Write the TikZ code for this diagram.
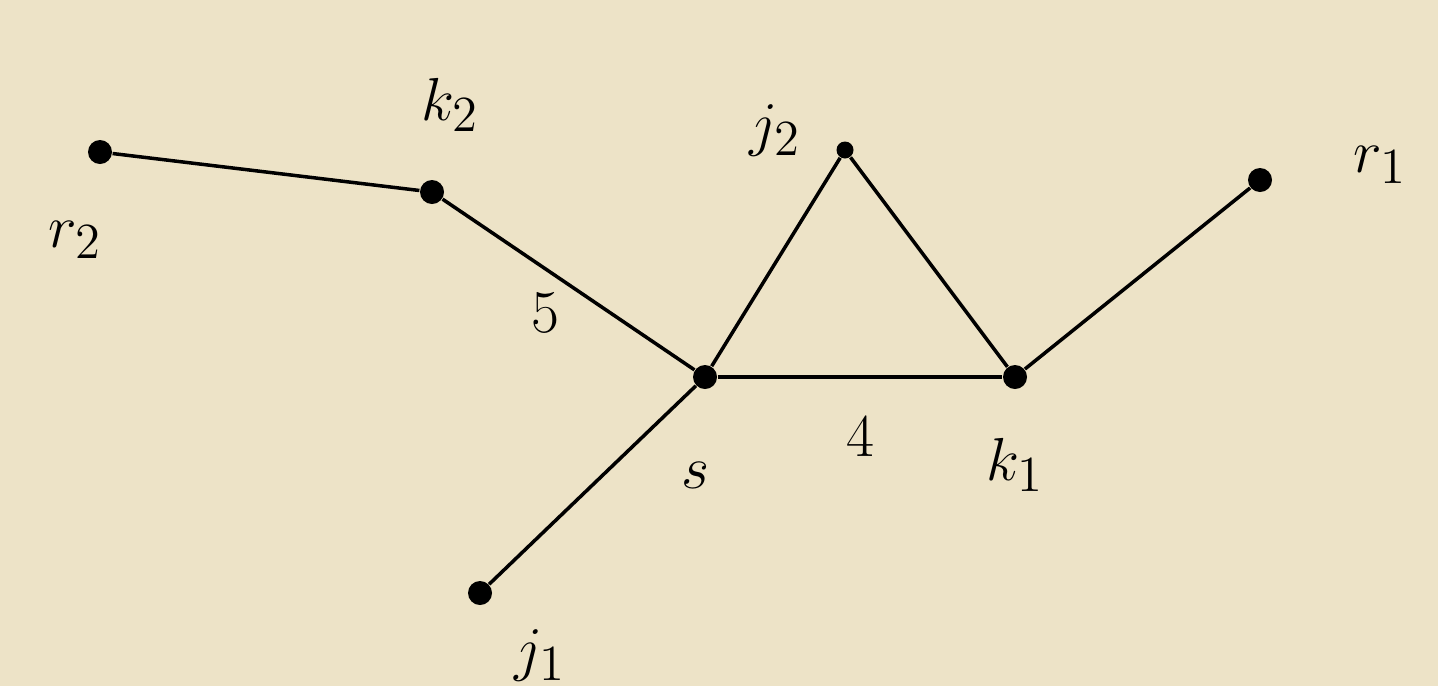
\documentclass[tikz,border=0pt]{standalone}
\usepackage{xcolor}
\definecolor{paper}{RGB}{237,227,199}
\usetikzlibrary{positioning}

\begin{document}
\begin{tikzpicture}[
    vertex/.style={circle, fill=black, inner sep=0pt, minimum size=0.24cm},
    small vertex/.style={circle, fill=black, inner sep=0pt, minimum size=0.17cm},
    tag/.style={font=\fontsize{19}{22}\selectfont, inner sep=1pt},
    weight/.style={font=\fontsize{18}{22}\selectfont, inner sep=1pt},
    edge/.style={line width=1pt, black}
]

% Paper
\fill[paper] (0,0) rectangle (14.38,6.86);
\useasboundingbox (0,0) rectangle (14.38,6.86);

% Vertices
\node[vertex] (r2) at (1.00,5.34) {};
\node[vertex] (k2) at (4.32,4.94) {};
\node[small vertex] (j2) at (8.45,5.36) {};
\node[vertex] (r1) at (12.60,5.06) {};
\node[vertex] (s) at (7.05,3.09) {};
\node[vertex] (k1) at (10.15,3.09) {};
\node[vertex] (j1) at (4.80,0.93) {};

% Vertex labels
\node[tag] (r2lab) at (0.75,4.46) {$r_2$};
\node[tag] (k2lab) at (4.50,5.81) {$k_2$};
\node[tag] (j2lab) at (7.75,5.56) {$j_2$};
\node[tag] (r1lab) at (13.80,5.21) {$r_1$};
\node[tag] (slab) at (6.95,2.11) {$s$};
\node[tag] (k1lab) at (10.15,2.21) {$k_1$};
\node[tag] (j1lab) at (5.40,0.31) {$j_1$};

% Edges
\draw[edge] (r2) -- (k2);
\draw[edge] (k2) -- node[weight, pos=0.5, below left=0.05cm] (w5) {$5$} (s);
\draw[edge] (s) -- (j2);
\draw[edge] (j2) -- (k1);
\draw[edge] (s) -- node[weight, pos=0.5, below=0.35cm] (w4) {$4$} (k1);
\draw[edge] (k1) -- (r1);
\draw[edge] (s) -- (j1);

\end{tikzpicture}
\end{document}
